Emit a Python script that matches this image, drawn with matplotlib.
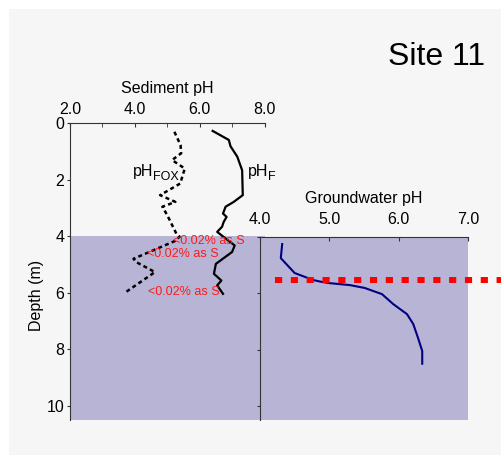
import matplotlib
matplotlib.use('Agg')
import matplotlib.pyplot as plt
from matplotlib.patches import Rectangle

plt.rcParams['font.family'] = ['Liberation Sans', 'DejaVu Sans']

# sediment pH profiles (depth in m)
f_depth = [0.28, 0.60, 0.82, 1.19, 1.67, 2.55, 2.79, 2.96, 3.20, 3.32, 3.50, 3.67, 3.85,
           4.33, 4.56, 4.98, 5.33, 5.57, 5.74, 6.04]
ph_f = [6.40, 6.90, 6.95, 7.16, 7.31, 7.33, 7.05, 6.80, 6.72, 6.83, 6.74, 6.69, 6.54,
        7.08, 7.00, 6.50, 6.44, 6.67, 6.54, 6.72]

fox_depth = [0.31, 0.78, 1.07, 1.31, 1.61, 2.14, 2.55, 2.79, 2.96, 3.26, 3.91, 4.02, 4.17,
             4.80, 4.91, 5.27, 5.98]
ph_fox = [5.22, 5.41, 5.43, 5.15, 5.54, 5.40, 4.78, 5.25, 4.85, 5.00, 5.28, 5.38, 5.24,
          3.96, 4.03, 4.62, 3.72]

# groundwater pH profile
gw_depth = [4.25, 4.75, 5.28, 5.53, 5.60, 5.64, 5.71, 5.81, 6.03, 6.38, 6.74, 7.09, 7.59, 8.05, 8.50]
gw_ph = [4.32, 4.30, 4.50, 4.77, 4.90, 5.01, 5.30, 5.51, 5.76, 5.92, 6.12, 6.21, 6.28, 6.34, 6.34]

water_table = 5.52
sat_top = 4.0

# sulfur notes: (pH, depth)
note_text = '<0.02% as S'
note_x = [5.18, 4.38, 4.41]
note_y = [4.18, 4.64, 5.98]

shade = '#b8b4d6'
spine_c = '#333333'

fig = plt.figure(figsize=(5.01, 4.55), dpi=100, facecolor='white')
fig.add_artist(Rectangle((9 / 501, 0), 1, 446 / 455, transform=fig.transFigure,
                         facecolor='#f6f6f6', edgecolor='none', zorder=-10))

# left panel: sediment pH
ax = fig.add_axes([70 / 501, 35 / 455, 194.5 / 501, 297 / 455])
ax.set_facecolor('none')
ax.axhspan(sat_top, 10.5, color=shade, lw=0, zorder=0)
ax.plot(ph_f, f_depth, color='black', lw=1.6, zorder=3)
ax.plot(ph_fox, fox_depth, color='black', lw=1.8, ls=(0, (1.6, 1.3)), zorder=3)
ax.set_xlim(2, 8)
ax.set_ylim(10.5, 0)
ax.xaxis.tick_top()
ax.xaxis.set_label_position('top')
ax.set_xticks([2, 4, 6, 8])
ax.set_xticklabels(['2.0', '4.0', '6.0', '8.0'])
ax.set_xticks([3, 5, 7], minor=True)
ax.set_yticks([0, 2, 4, 6, 8, 10])
ax.tick_params(axis='x', which='both', direction='in', length=3, pad=4, labelsize=11.5, color=spine_c)
ax.tick_params(axis='y', direction='out', length=2, pad=2, labelsize=11.5, color=spine_c)
ax.set_xlabel('Sediment pH', fontsize=11.5, labelpad=7)
for s in ['right', 'bottom']:
    ax.spines[s].set_visible(False)
for s in ['top', 'left']:
    ax.spines[s].set_color(spine_c)

ax.text(3.94, 1.88, 'pH', fontsize=11.5)
ax.text(4.55, 2.02, 'FOX', fontsize=9)
ax.text(7.48, 1.88, 'pH', fontsize=11.5)
ax.text(8.11, 2.02, 'F', fontsize=9, clip_on=False)
for x, y in zip(note_x, note_y):
    ax.text(x, y, note_text, color='#ff1a1a', fontsize=9, va='center', zorder=4)

fig.text(37 / 501, 1 - 295 / 455, 'Depth (m)', rotation=90, ha='center', va='center', fontsize=11.5)
fig.text(485 / 501, 1 - 65 / 455, 'Site 11', ha='right', va='baseline', fontsize=23)

# right panel: groundwater pH
ax2 = fig.add_axes([260 / 501, 35 / 455, 208 / 501, 183 / 455])
ax2.set_facecolor(shade)
ax2.plot(gw_ph, gw_depth, color='#000080', lw=1.5, zorder=3)
ax2.plot([4.22, 7.7], [water_table, water_table], color='red', lw=4.3,
         ls=(0, (1.2, 1.45)), clip_on=False, zorder=4)
ax2.set_xlim(4, 7)
ax2.set_ylim(10.5, 4)
ax2.xaxis.tick_top()
ax2.xaxis.set_label_position('top')
ax2.set_xticks([4, 5, 6, 7])
ax2.set_xticklabels(['4.0', '5.0', '6.0', '7.0'])
ax2.set_yticks([4, 6, 8, 10])
ax2.set_yticklabels([])
ax2.tick_params(axis='x', direction='in', length=3, pad=7, labelsize=11.5, color=spine_c)
ax2.tick_params(axis='y', direction='out', length=2, color=spine_c)
ax2.set_xlabel('Groundwater pH', fontsize=11.5, labelpad=7)
for s in ['right', 'bottom']:
    ax2.spines[s].set_visible(False)
for s in ['top', 'left']:
    ax2.spines[s].set_color(spine_c)

fig.savefig('out.png', dpi=100, facecolor=fig.get_facecolor())
